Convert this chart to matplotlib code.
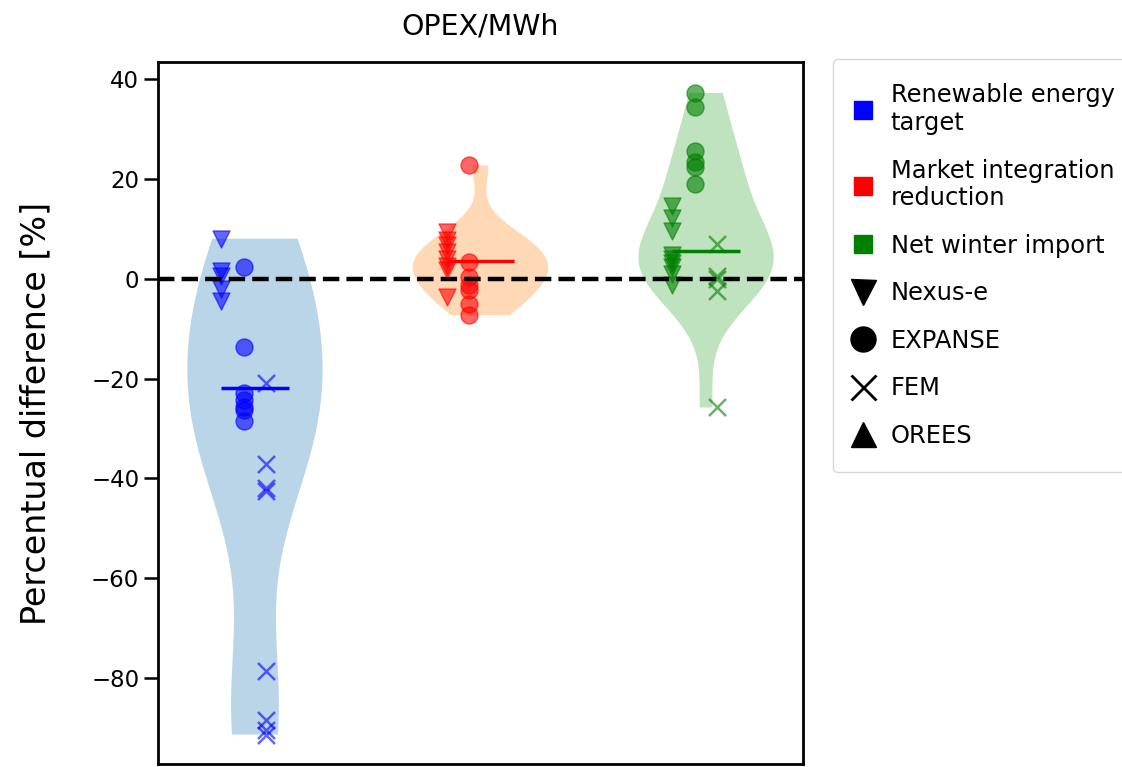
import numpy as np
import matplotlib
matplotlib.use("Agg")
import matplotlib.pyplot as plt
from matplotlib.lines import Line2D

# ---- data ----
scenarios = ["Renewable energy\ntarget", "Market integration\nreduction", "Net winter import"]
scenario_colors = ["blue", "red", "green"]
models = ["Nexus-e", "EXPANSE", "FEM", "OREES"]
model_markers = ["v", "o", "x", "^"]

nexus_vals = [
    [8.0, 1.5, 0.6, -2.0, -4.4],
    [9.3, 7.8, 6.8, 5.3, 4.0, 2.5, 1.8, -3.6],
    [14.6, 12.2, 9.6, 4.8, 4.0, 3.2, 2.3, 0.9, -1.2],
]
expanse_vals = [
    [2.3, -13.6, -22.8, -24.3, -25.6, -26.3, -28.5],
    [22.7, 3.3, 0.3, -1.2, -2.3, -5.0, -7.3],
    [37.2, 34.4, 25.5, 23.3, 22.3, 19.0],
]
fem_vals = [
    [-20.8, -37.2, -42.0, -42.6, -78.5, -88.3, -90.3, -91.3],
    [],
    [7.0, 0.6, -0.1, -2.5, -25.8],
]
orees_vals = [[], [], []]
medians = [-21.9, 3.6, 5.6]

title = "OPEX/MWh"
ylabel = "Percentual difference [%]"

# ---- figure ----
fig = plt.figure(figsize=(11.22, 7.67), dpi=100)
ax = fig.add_axes([0.1408, 0.0039, 0.5749, 0.9153])

positions = [1, 2, 3]
offsets = [-0.15, -0.05, 0.05, 0.15]
model_data = [nexus_vals, expanse_vals, fem_vals, orees_vals]

for i, pos in enumerate(positions):
    allv = np.concatenate([np.asarray(md[i], float) for md in model_data])
    ax.violinplot(allv, positions=[pos], widths=0.6, showextrema=False)

for i, pos in enumerate(positions):
    c = scenario_colors[i]
    for md, m, off in zip(model_data, model_markers, offsets):
        vals = md[i]
        if len(vals) == 0:
            continue
        kw = dict(marker=m, color=c, alpha=0.6, s=150)
        if m == "x":
            kw["linewidths"] = 1.8
        ax.scatter(np.full(len(vals), pos + off), vals, **kw)
    ax.hlines(medians[i], pos - 0.15, pos + 0.15, color=c, lw=2.5, zorder=3)

ax.axhline(0, color="black", ls="--", lw=3.2, zorder=2)

ax.set_xlim(0.57, 3.43)
ax.set_ylim(-97.2, 43.4)
ax.set_xticks([])
ax.set_yticks([40, 20, 0, -20, -40, -60, -80])
ax.tick_params(axis="y", width=1.8, length=10, labelsize=16.5, pad=3.5)
for sp in ax.spines.values():
    sp.set_linewidth(2.0)

ax.set_title(title, fontsize=20.5, pad=20)
ax.set_ylabel(ylabel, fontsize=24)
ax.yaxis.set_label_coords(-0.163, 0.5)

handles = []
labels = []
for s, c in zip(scenarios, scenario_colors):
    handles.append(Line2D([], [], marker="s", color=c, linestyle="None", markersize=13))
    labels.append(s)
for mname, m in zip(models, model_markers):
    kw = dict(marker=m, color="black", linestyle="None", markersize=18)
    if m == "x":
        kw["markeredgewidth"] = 2
    handles.append(Line2D([], [], **kw))
    labels.append(mname)

ax.legend(handles, labels, loc="upper left", bbox_to_anchor=(1.046, 1.004),
          borderaxespad=0, fontsize=17.4, labelspacing=0.97, handletextpad=0.9,
          handlelength=0.5, borderpad=1.0, frameon=True)

fig.savefig("out.png", dpi=100)
